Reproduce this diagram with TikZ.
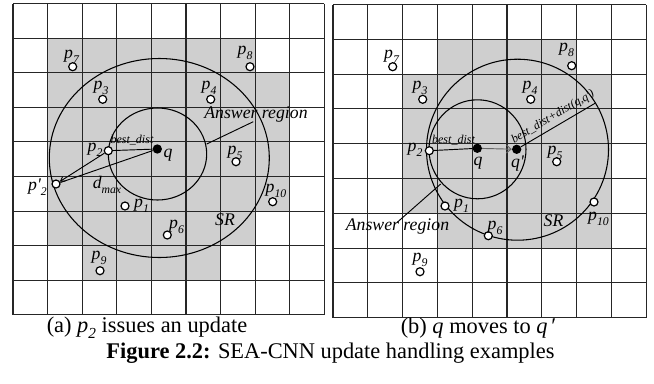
\documentclass[tikz,border=0pt]{standalone}
\usepackage{fontspec}
\setmainfont{Liberation Serif}
\usetikzlibrary{arrows.meta}
\newcommand\sbs[1]{\raisebox{-0.28em}{\fontsize{8.8}{8.8}\selectfont\itshape #1}}
\newcommand\pl[1]{\textit{p}\sbs{#1}}
\begin{document}
\begin{tikzpicture}[x=0.75pt,y=-0.75pt,
  lab/.style={font=\fontsize{13.3}{13.3}\selectfont\itshape, inner sep=0pt},
  small/.style={font=\fontsize{9}{9}\selectfont\itshape, inner sep=0pt},
  captext/.style={font=\fontsize{16.8}{16.8}\selectfont, inner sep=0pt},
  gridline/.style={line width=0.85pt, draw=black!85},
  graycell/.style={fill=black!19},
  curve/.style={line width=0.8pt},
  conn/.style={line width=0.7pt},
  pnt/.style={circle, draw=black, fill=white, line width=0.9pt, minimum size=6pt, inner sep=0pt},
  qpnt/.style={circle, fill=black, minimum size=7pt, inner sep=0pt}]
\useasboundingbox (0,0) rectangle (654,383);
\fill[white] (0,0) rectangle (654,383);
% ---------- left grid: gray cells
\fill[graycell] (47.6,38.1) rectangle (255.2,72.7);
\fill[graycell] (47.6,72.7) rectangle (289.8,211.1);
\fill[graycell] (47.6,211.1) rectangle (255.2,245.7);
\fill[graycell] (82.2,245.7) rectangle (220.6,280.3);
% ---------- right grid: gray cells
\fill[graycell] (437.4,39.3) rectangle (576.6,74.1);
\fill[graycell] (402.6,74.1) rectangle (611.4,213.3);
\fill[graycell] (437.4,213.3) rectangle (611.4,248.1);
% ---------- grid lines
\foreach \i in {0,...,9} {
  \draw[gridline] ({13+\i*34.6},3.5) -- ({13+\i*34.6},314.9);
  \draw[gridline] (13,{3.5+\i*34.6}) -- (324.4,{3.5+\i*34.6});
  \draw[gridline] ({333+\i*34.8},4.5) -- ({333+\i*34.8},317.7);
  \draw[gridline] (333,{4.5+\i*34.8}) -- (646.2,{4.5+\i*34.8});
}
% ---------- left circles
\draw[curve] (157.5,154) ellipse [x radius=49.2, y radius=46];
\draw[curve] (159.3,158) ellipse [x radius=110, y radius=99.5];
% ---------- right circles
\draw[curve] (477.5,149.3) ellipse [x radius=48.5, y radius=49.5];
\draw[curve] (517.5,149.7) ellipse [x radius=91, y radius=90.5];
% ---------- left points
\node[pnt] (Lp7) at (72.7,66.7) {};
\node[pnt] (Lp8) at (250,66.7) {};
\node[pnt] (Lp3) at (102.7,99.3) {};
\node[pnt] (Lp4) at (210.7,99.3) {};
\node[pnt] (Lp2) at (108.3,150.7) {};
\node[qpnt] (Lq) at (157.3,149) {};
\node[pnt] (Lp5) at (236,161.7) {};
\node[pnt] (Lpp2) at (56,184) {};
\node[pnt] (Lp10) at (272.7,201.7) {};
\node[pnt] (Lp1) at (125,206) {};
\node[pnt] (Lp6) at (167.3,235) {};
\node[pnt] (Lp9) at (100,270.7) {};
% ---------- right points
\node[pnt] (Rp7) at (392.7,66.7) {};
\node[pnt] (Rp8) at (571.7,65.7) {};
\node[pnt] (Rp3) at (422.7,99.3) {};
\node[pnt] (Rp4) at (530.7,99.3) {};
\node[pnt] (Rp2) at (429.3,150.7) {};
\node[qpnt] (Rq) at (477.3,148.3) {};
\node[qpnt] (Rqq) at (516.7,149.3) {};
\node[pnt] (Rp5) at (556.7,161.7) {};
\node[pnt] (Rp10) at (594,202) {};
\node[pnt] (Rp1) at (445,206) {};
\node[pnt] (Rp6) at (488.3,235.7) {};
\node[pnt] (Rp9) at (420,271.7) {};
% ---------- left connectors
\draw[conn] (Lp2) -- (Lq);
\draw[conn,-{Straight Barb[length=3pt,width=4pt]}] (Lp2) -- (Lpp2);
\draw[conn] (Lq) -- (Lpp2);
\coordinate (LarA) at (206.7,144);
\coordinate (LarB) at (253.3,121.7);
\draw[conn] (LarA) -- (LarB);
% ---------- right connectors
\draw[conn] (Rp2) -- (Rq);
\draw[conn,draw=black!60,-{Straight Barb[length=3.5pt,width=6pt]}] (Rq) -- (Rqq);
\coordinate (RrB) at (595,103.3);
\draw[conn] (Rqq) -- (RrB);
\coordinate (RarA) at (440.7,184);
\coordinate (RarB) at (397,222.5);
\draw[conn] (RarA) -- (RarB);
% ---------- left labels
\node[lab] (tLp7) at (71.5,56.5) {\pl{7}};
\node[lab] (tLp8) at (245,53) {\pl{8}};
\node[lab] (tLp3) at (101,88) {\pl{3}};
\node[lab] (tLp4) at (209,88) {\pl{4}};
\node[lab] (tLp2) at (95,150) {\pl{2}};
\node[lab] (tLq) at (168,155.5) {q};
\node[lab] (tLp5) at (235,153) {\pl{5}};
\node[lab] (tLpp2) at (37.5,187.5) {p\textquotesingle\sbs{2}};
\node[lab] (tLp10) at (276,191) {\pl{10}};
\node[lab] (tLp1) at (141.5,206) {\pl{1}};
\node[lab] (tLp6) at (176.5,227) {\pl{6}};
\node[lab] (tLp9) at (99,258) {\pl{9}};
\node[lab] (tLsr) at (225,220) {SR};
\node[small] (tLbd) at (132,140.5) {best\_dist};
\node[lab] (tLdm) at (107,185) {d\sbs{max}};
\node[lab] (tLar) at (256,115) {Answer region};
% ---------- right labels
\node[lab] (tRp7) at (391.5,56.5) {\pl{7}};
\node[lab] (tRp8) at (566.5,50) {\pl{8}};
\node[lab] (tRp3) at (420,88) {\pl{3}};
\node[lab] (tRp4) at (530,87.5) {\pl{4}};
\node[lab] (tRp2) at (415,150) {\pl{2}};
\node[lab] (tRq) at (478,163) {q};
\node[lab] (tRqq) at (517.5,164) {q\textquotesingle};
\node[lab] (tRp5) at (555,153) {\pl{5}};
\node[lab] (tRp10) at (598.5,219) {\pl{10}};
\node[lab] (tRp1) at (461.5,206) {\pl{1}};
\node[lab] (tRp6) at (495,228) {\pl{6}};
\node[lab] (tRp9) at (420,260) {\pl{9}};
\node[lab] (tRsr) at (553.5,221) {SR};
\node[small] (tRbd) at (453.5,140) {best\_dist};
\node[small,rotate=30.4] (tRbdd) at (553,117) {best\_dist+dist(q,q\textquotesingle)};
\node[lab] (tRar) at (397.5,227) {Answer region};
% ---------- captions
\node[captext] (capa) at (147,328) {(a) \textit{p}\raisebox{-0.25em}{\fontsize{11.5}{11.5}\selectfont\itshape 2} issues an update};
\node[captext] (capb) at (478.5,328) {(b) \textit{q} moves to \textit{q}\,′};
\node[captext] (capf) at (330.5,353) {\textbf{Figure 2.2:} SEA-CNN update handling examples};
\end{tikzpicture}
\end{document}
